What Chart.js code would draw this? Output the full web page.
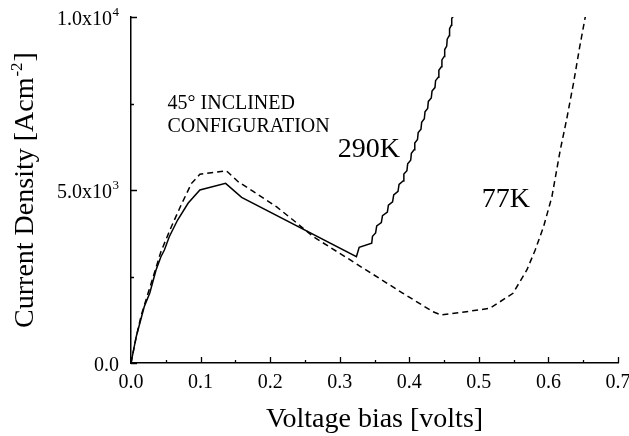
<!DOCTYPE html>
<html>
<head>
<meta charset="utf-8">
<script src="https://cdn.jsdelivr.net/npm/chart.js@4/dist/chart.umd.min.js"></script>
<style>
  html, body { margin: 0; padding: 0; background: #fff; }
  canvas { display: block; }
</style>
</head>
<body>
<canvas id="jv" width="629" height="436"></canvas>
<script>
// Current density vs. voltage bias, 45° inclined configuration
// 290 K trace: rise, peak, negative-resistance branch, then the stepped high-bias rise
const voltage290 = [0, 0.0075, 0.019, 0.027, 0.036, 0.043, 0.048, 0.055, 0.067, 0.082, 0.099, 0.136, 0.159, 0.324,
                    0.328, 0.3460, 0.3471, 0.3516, 0.3532, 0.3598, 0.3615, 0.3685, 0.3700, 0.3760, 0.3776,
                    0.3838, 0.3853, 0.3911, 0.3922, 0.3966, 0.3977, 0.4020, 0.4030, 0.4069, 0.4079,
                    0.4118, 0.4128, 0.4168, 0.4178, 0.4216, 0.4226, 0.4264, 0.4274, 0.4316, 0.4327,
                    0.4369, 0.4378, 0.4416, 0.4425, 0.4461, 0.4469, 0.4502, 0.4509, 0.4538, 0.4545,
                    0.4573, 0.4579, 0.4604, 0.4610, 0.463];
const current290 = [0, 760, 1627, 2023, 2688, 3072, 3266, 3650, 4133, 4615, 5000, 5193, 4789, 3072,
                    3344, 3460, 3660, 3760, 3960, 4060, 4260, 4360, 4560, 4660, 4860,
                    4960, 5160, 5260, 5460, 5560, 5760, 5860, 6060, 6160, 6360,
                    6460, 6660, 6760, 6960, 7060, 7260, 7360, 7560, 7660, 7860,
                    7960, 8160, 8260, 8460, 8560, 8760, 8860, 9060, 9160, 9360,
                    9460, 9660, 9760, 9960, 10008];

// 77 K trace
const voltage77 = [0, 0.008, 0.015, 0.029, 0.043, 0.058, 0.072, 0.087, 0.099, 0.137, 0.154, 0.180, 0.209, 0.233, 0.262, 0.300,
                   0.391, 0.434, 0.446, 0.482, 0.516, 0.549, 0.569, 0.581, 0.593, 0.605, 0.617, 0.626, 0.636, 0.645, 0.653];
const current77 = [0, 800, 1400, 2303, 3217, 3939, 4566, 5193, 5454, 5557, 5240, 4904, 4517, 4133, 3650, 3170,
                   2014, 1483, 1387, 1483, 1581, 2014, 2688, 3266, 3939, 4806, 6156, 7023, 8083, 9141, 10008];

// axis ticks and labels
const xMajorTicks = [0, 0.1, 0.2, 0.3, 0.4, 0.5, 0.6, 0.7];
const xMinorTicks = [0.05, 0.15, 0.25, 0.35, 0.45, 0.55, 0.65];
const yMajorTicks = [0, 5000, 10000];
const yMinorTicks = [2500, 7500];
const yTickText = ['0.0', '5.0x10', '1.0x10'];
const yTickExp = ['', '3', '4'];

// titles and annotations
const xTitle = 'Voltage bias [volts]';
const yTitleMain = 'Current Density [Acm';
const yTitleExp = '-2';
const yTitleEnd = ']';
const noteLines = ['45° INCLINED', 'CONFIGURATION'];
const seriesNames = ['290K', '77K'];

const SERIF = "'Liberation Serif', 'Times New Roman', Times, serif";

function toPoints(xs, ys) {
  return xs.map((v, i) => ({ x: v, y: ys[i] }));
}

const decorPlugin = {
  id: 'decor',
  afterDraw(chart) {
    const ctx = chart.ctx;
    const xs = chart.scales.x, ys = chart.scales.y;
    const area = chart.chartArea;
    ctx.save();
    ctx.strokeStyle = '#000';
    ctx.lineWidth = 1.3;
    ctx.beginPath();
    // inward ticks on the bottom axis
    xMajorTicks.forEach(v => {
      const p = Math.round(xs.getPixelForValue(v)) + 0.5;
      ctx.moveTo(p, area.bottom); ctx.lineTo(p, area.bottom - 6);
    });
    xMinorTicks.forEach(v => {
      const p = Math.round(xs.getPixelForValue(v)) + 0.5;
      ctx.moveTo(p, area.bottom); ctx.lineTo(p, area.bottom - 3);
    });
    // inward ticks on the left axis
    yMajorTicks.forEach(v => {
      const p = Math.round(ys.getPixelForValue(v)) + 0.5;
      ctx.moveTo(area.left, p); ctx.lineTo(area.left + 6, p);
    });
    yMinorTicks.forEach(v => {
      const p = Math.round(ys.getPixelForValue(v)) + 0.5;
      ctx.moveTo(area.left, p); ctx.lineTo(area.left + 3, p);
    });
    ctx.stroke();

    ctx.fillStyle = '#000';
    // left axis labels with powers of ten
    const labelRight = area.left - 12;
    yMajorTicks.forEach((v, i) => {
      const py = ys.getPixelForValue(v);
      ctx.font = '13px ' + SERIF;
      const ew = yTickExp[i] ? ctx.measureText(yTickExp[i]).width : 0;
      ctx.textBaseline = 'alphabetic';
      ctx.textAlign = 'left';
      if (ew) ctx.fillText(yTickExp[i], labelRight - ew, py - 1.5);
      ctx.font = '20px ' + SERIF;
      ctx.textAlign = 'right';
      ctx.fillText(yTickText[i], labelRight - ew - (ew ? 0.5 : 0), py + 8);
    });

    // rotated left axis title
    ctx.save();
    const cy = (area.top + area.bottom) / 2;
    ctx.translate(33, cy);
    ctx.rotate(-Math.PI / 2);
    ctx.textAlign = 'left';
    ctx.textBaseline = 'alphabetic';
    ctx.font = '28px ' + SERIF;
    const w1 = ctx.measureText(yTitleMain).width;
    const w3 = ctx.measureText(yTitleEnd).width;
    ctx.font = '17px ' + SERIF;
    const w2 = ctx.measureText(yTitleExp).width;
    let x0 = -(w1 + w2 + w3 + 2) / 2;
    ctx.font = '28px ' + SERIF;
    ctx.fillText(yTitleMain, x0, 0);
    ctx.font = '17px ' + SERIF;
    ctx.fillText(yTitleExp, x0 + w1 + 1, -11);
    ctx.font = '28px ' + SERIF;
    ctx.fillText(yTitleEnd, x0 + w1 + w2 + 2, 0);
    ctx.restore();

    // annotations placed in data coordinates
    ctx.textAlign = 'left';
    ctx.textBaseline = 'alphabetic';
    ctx.font = '20px ' + SERIF;
    ctx.fillText(noteLines[0], xs.getPixelForValue(0.0525), ys.getPixelForValue(7340));
    ctx.fillText(noteLines[1], xs.getPixelForValue(0.0525), ys.getPixelForValue(6676));
    ctx.font = '28px ' + SERIF;
    ctx.fillText(seriesNames[0], xs.getPixelForValue(0.297), ys.getPixelForValue(5953));
    ctx.fillText(seriesNames[1], xs.getPixelForValue(0.504), ys.getPixelForValue(4508));
    ctx.restore();
  }
};

new Chart(document.getElementById('jv'), {
  type: 'line',
  data: {
    datasets: [
      {
        label: seriesNames[0],
        data: toPoints(voltage290, current290),
        borderColor: '#000',
        borderWidth: 1.5,
        pointRadius: 0,
        tension: 0,
        fill: false
      },
      {
        label: seriesNames[1],
        data: toPoints(voltage77, current77),
        borderColor: '#000',
        borderWidth: 1.5,
        borderDash: [6, 4],
        pointRadius: 0,
        tension: 0,
        fill: false
      }
    ]
  },
  options: {
    responsive: false,
    animation: false,
    devicePixelRatio: 1,
    layout: { padding: { top: 17, right: 11, left: 0, bottom: 0 } },
    plugins: {
      legend: { display: false },
      tooltip: { enabled: false }
    },
    scales: {
      x: {
        type: 'linear',
        min: 0,
        max: 0.7,
        grid: { display: false, drawTicks: false },
        border: { display: true, color: '#000', width: 1.5 },
        ticks: {
          stepSize: 0.1,
          padding: 8,
          color: '#000',
          font: { family: SERIF, size: 20 },
          callback: v => Number(v).toFixed(1)
        },
        title: {
          display: true,
          text: xTitle,
          color: '#000',
          font: { family: SERIF, size: 28 },
          padding: { top: 0, bottom: 0 }
        },
        afterFit: s => { s.height = 73; s.paddingLeft = 0; s.paddingRight = 0; }
      },
      y: {
        type: 'linear',
        min: 0,
        max: 10000,
        grid: { display: false, drawTicks: false },
        border: { display: true, color: '#000', width: 1.5 },
        ticks: { display: false, stepSize: 5000 },
        afterFit: s => { s.width = 131; s.paddingTop = 0; s.paddingBottom = 0; }
      }
    }
  },
  plugins: [decorPlugin]
});
</script>
</body>
</html>
